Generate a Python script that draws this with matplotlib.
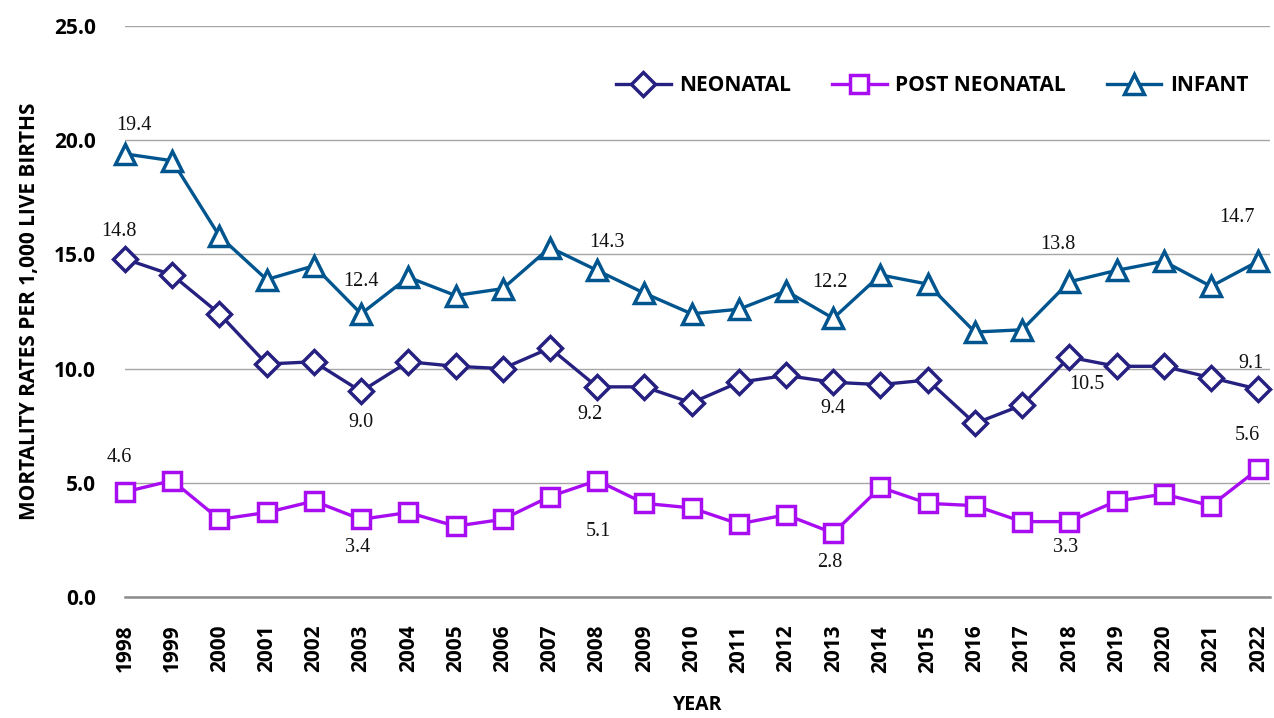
import matplotlib.pyplot as plt

years = list(range(1998, 2023))
neonatal = [14.8, 14.1, 12.4, 10.2, 10.3, 9.0, 10.3, 10.1, 10.0, 10.9, 9.2, 9.2, 8.5,
            9.4, 9.7, 9.4, 9.3, 9.5, 7.6, 8.4, 10.5, 10.1, 10.1, 9.6, 9.1]
post_neonatal = [4.6, 5.1, 3.4, 3.7, 4.2, 3.4, 3.7, 3.1, 3.4, 4.4, 5.1, 4.1, 3.9,
                 3.2, 3.6, 2.8, 4.8, 4.1, 4.0, 3.3, 3.3, 4.2, 4.5, 4.0, 5.6]
infant = [19.4, 19.1, 15.8, 13.9, 14.5, 12.4, 14.0, 13.2, 13.5, 15.3, 14.3, 13.3, 12.4,
          12.6, 13.4, 12.2, 14.1, 13.7, 11.6, 11.7, 13.8, 14.3, 14.7, 13.6, 14.7]

# labelled points: (year index, dx, dy) offsets in pixels, up is positive
neo_labels = [(0, -6, 27), (5, 0, -31), (10, -7, -28), (15, 0, -26), (20, 18, -27), (24, -7, 26)]
post_labels = [(0, -6, 34), (5, -3, -28), (10, 1, -51), (15, -3, -29), (20, -4, -26), (24, -11, 34)]
inf_labels = [(0, 9, 28), (5, 0, 32), (10, 10, 28), (15, -3, 36), (20, -11, 37), (24, -21, 44)]

c_neo = '#262180'
c_post = '#A80DF2'
c_inf = '#00558F'
sans = ['Open Sans', 'DejaVu Sans']

fig = plt.figure(figsize=(12.74, 7.18), dpi=100)
ax = fig.add_axes([125 / 1274, 1 - 597 / 718, 1145 / 1274, 571 / 718])

mk = dict(markerfacecolor='white', markeredgewidth=2.5, linewidth=2.4, clip_on=False, zorder=3)
ax.plot(years, neonatal, color=c_neo, marker='D', markersize=12, label='NEONATAL', **mk)
ax.plot(years, post_neonatal, color=c_post, marker='s', markersize=13, label='POST NEONATAL', **mk)
ax.plot(years, infant, color=c_inf, marker='^', markersize=15, label='INFANT', **mk)

serif = ['Liberation Serif', 'DejaVu Serif']
for series, labs in [(neonatal, neo_labels), (post_neonatal, post_labels), (infant, inf_labels)]:
    for i, dx, dy in labs:
        ax.annotate(f'{series[i]:.1f}', (years[i], series[i]), xytext=(dx, dy),
                    textcoords='offset pixels', ha='center', va='center',
                    fontsize=14.5, family=serif, color='#111111')

ax.set_ylim(0, 25)
ax.set_xlim(1998, 2022.25)
ax.set_yticks([0, 5, 10, 15, 20, 25])
ax.set_yticklabels([f'{v:.1f}' for v in [0, 5, 10, 15, 20, 25]])
ax.set_xticks(years)
ax.set_xticklabels([str(y) for y in years], rotation=90)
ax.grid(axis='y', color='#A6A6A6', linewidth=1)
ax.set_axisbelow(True)
for s in ['top', 'right', 'left']:
    ax.spines[s].set_visible(False)
ax.spines['bottom'].set_color('#8C8C8C')
ax.spines['bottom'].set_linewidth(1.8)
ax.tick_params(axis='both', length=0, labelsize=15)
ax.tick_params(axis='y', pad=21)
ax.tick_params(axis='x', pad=20)
for lab in ax.get_xticklabels() + ax.get_yticklabels():
    lab.set_family(sans)
    lab.set_fontweight('bold')

ax.set_xlabel('YEAR', fontsize=14, fontweight='bold', family=sans, labelpad=16)
ax.set_ylabel('MORTALITY RATES PER 1,000 LIVE BIRTHS', fontsize=15, fontweight='bold',
              family=sans, labelpad=10)

ax.legend(loc='center', bbox_to_anchor=(0.705, 0.895), ncol=3, frameon=False,
          prop={'family': sans, 'weight': 'bold', 'size': 15}, handlelength=2.6,
          columnspacing=2.0, handletextpad=0.4)

fig.savefig('out.png', dpi=100)
